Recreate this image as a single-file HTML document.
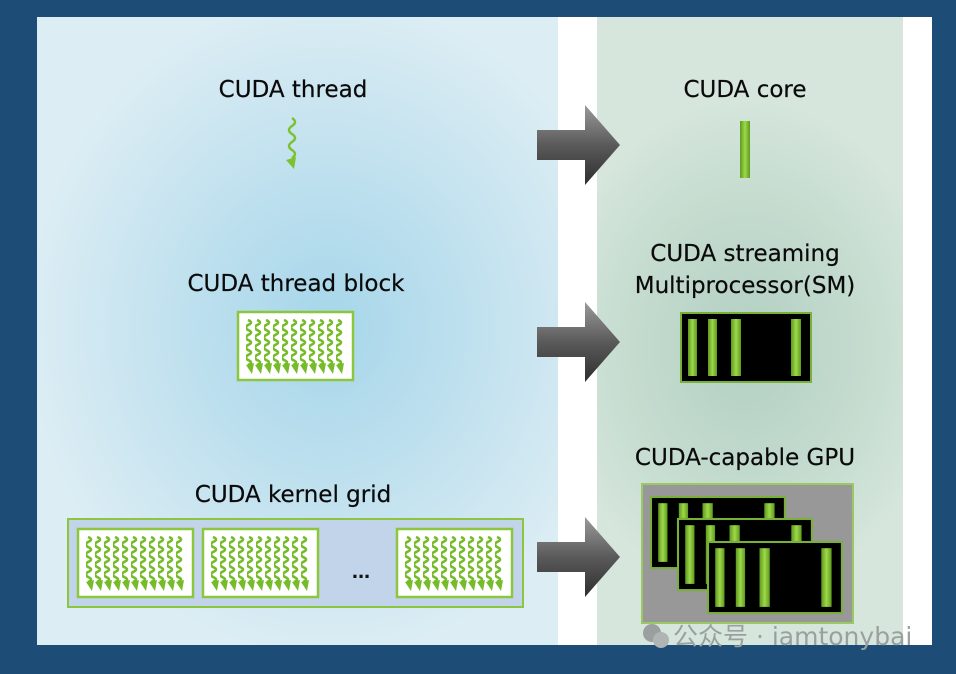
<!DOCTYPE html>
<html><head><meta charset="utf-8"><style>
body{margin:0;width:956px;height:674px;background:#1d4d77;position:relative;overflow:hidden;font-family:"DejaVu Sans","Liberation Sans",sans-serif}
.a{position:absolute}
.t{position:absolute;font-size:23px;color:#0a0a0a;text-align:center;width:300px;line-height:32px;-webkit-text-stroke:0.2px #0a0a0a}
</style></head><body>
<div class="a" style="left:37px;top:17px;width:521px;height:628px;background:radial-gradient(ellipse 300px 330px at 290px 310px,#a6d6ea 0%,#c3e2ef 55%,#dcedf4 100%)"></div>
<div class="a" style="left:558px;top:17px;width:39px;height:628px;background:#fff"></div>
<div class="a" style="left:597px;top:17px;width:306px;height:628px;background:radial-gradient(ellipse 200px 250px at 150px 330px,#b2d0c2 0%,#c5dccf 60%,#d6e6dc 100%)"></div>
<div class="a" style="left:903px;top:17px;width:29px;height:628px;background:#fff"></div>

<div class="t" style="left:143px;top:74px">CUDA thread</div>
<div class="t" style="left:595px;top:74px">CUDA core</div>
<div class="t" style="left:146px;top:268px">CUDA thread block</div>
<div class="t" style="left:595px;top:238px">CUDA streaming<br>Multiprocessor(SM)</div>
<div class="t" style="left:143px;top:479px">CUDA kernel grid</div>
<div class="t" style="left:595px;top:442px">CUDA-capable GPU</div>

<svg class="a" style="left:0;top:0" width="956" height="674">
<defs>
<linearGradient id="ag" x1="0" y1="0" x2="0" y2="1"><stop offset="0" stop-color="#9a9a9a"/><stop offset=".5" stop-color="#5a5a5a"/><stop offset="1" stop-color="#2e2e2e"/></linearGradient>
<linearGradient id="gb" x1="0" y1="0" x2="1" y2="0"><stop offset="0" stop-color="#5d9a1e"/><stop offset=".5" stop-color="#9fd84a"/><stop offset="1" stop-color="#5d9a1e"/></linearGradient>
<g id="arr"><path d="M0,-15 H48 V-40 L83,0 L48,40 V15 H0 Z" fill="url(#ag)"/></g>
<pattern id="wv" x="8" y="7" width="9" height="56" patternUnits="userSpaceOnUse"><path d="M2,1 q6,2.5 0,5 q-4,2.5 0,5 q6,2.5 0,5 q-4,2.5 0,5 q6,2.5 0,5 q-4,2.5 0,5 q6,2.5 0,5 q-4,2.5 0,5 q6,2.5 0,5" stroke="#76bb2a" stroke-width="2.6" fill="none"/><path d="M0,46 L6,55 L8,44Z" fill="#76bb2a"/></pattern>
<g id="blk"><rect x="0" y="0" width="115" height="68" fill="#fff" stroke="#8cc63f" stroke-width="2.5"/><rect x="8" y="7" width="99" height="56" fill="url(#wv)"/></g>
<g id="sm"><rect x="0" y="0" width="130" height="69" fill="#000" stroke="#7ab03a" stroke-width="2"/>
<rect x="7" y="6" width="9" height="57" fill="url(#gb)"/><rect x="27" y="6" width="9" height="57" fill="url(#gb)"/><rect x="50" y="6" width="10" height="57" fill="url(#gb)"/><rect x="110" y="6" width="10" height="57" fill="url(#gb)"/></g>
</defs>
<use href="#arr" x="537" y="145"/><use href="#arr" x="537" y="342"/><use href="#arr" x="537" y="557"/>
<path d="M292,118 q6,4 0,8 q-6,4 0,8 q6,4 0,8 q-6,4 0,8 q6,4 0,8" stroke="#7cc230" stroke-width="2.5" fill="none"/><path d="M286,160 L294,169 L296,157Z" fill="#7cc230"/>
<rect x="740" y="121" width="10" height="57" fill="url(#gb)"/>
<use href="#sm" x="681" y="313"/>
<use href="#blk" x="238" y="312"/>
<rect x="68" y="519" width="455" height="88" fill="#c2d4ea" stroke="#8cc63f" stroke-width="2"/>
<use href="#blk" x="78" y="529"/><use href="#blk" x="203" y="529"/><use href="#blk" x="397" y="529"/>
<text x="361" y="578" font-size="22" font-weight="bold" text-anchor="middle" fill="#111" font-family="Liberation Sans">...</text>
<rect x="642" y="484" width="211" height="139" fill="#989898" stroke="#9cc864" stroke-width="2"/>
<g transform="translate(651,497) scale(1.03,1.03)"><use href="#sm"/></g>
<g transform="translate(678,519) scale(1.03,1.03)"><use href="#sm"/></g>
<g transform="translate(708,542) scale(1.03,1.03)"><use href="#sm"/></g>
<text x="673" y="645" font-size="25" fill="#9aa0a0" font-family="DejaVu Sans, Noto Sans CJK SC, sans-serif">公众号 · iamtonybai</text>
<circle cx="652" cy="633" r="9" fill="#9aa0a0"/><circle cx="661" cy="640" r="8" fill="#b0b4b4"/>
</svg>
</body></html>
